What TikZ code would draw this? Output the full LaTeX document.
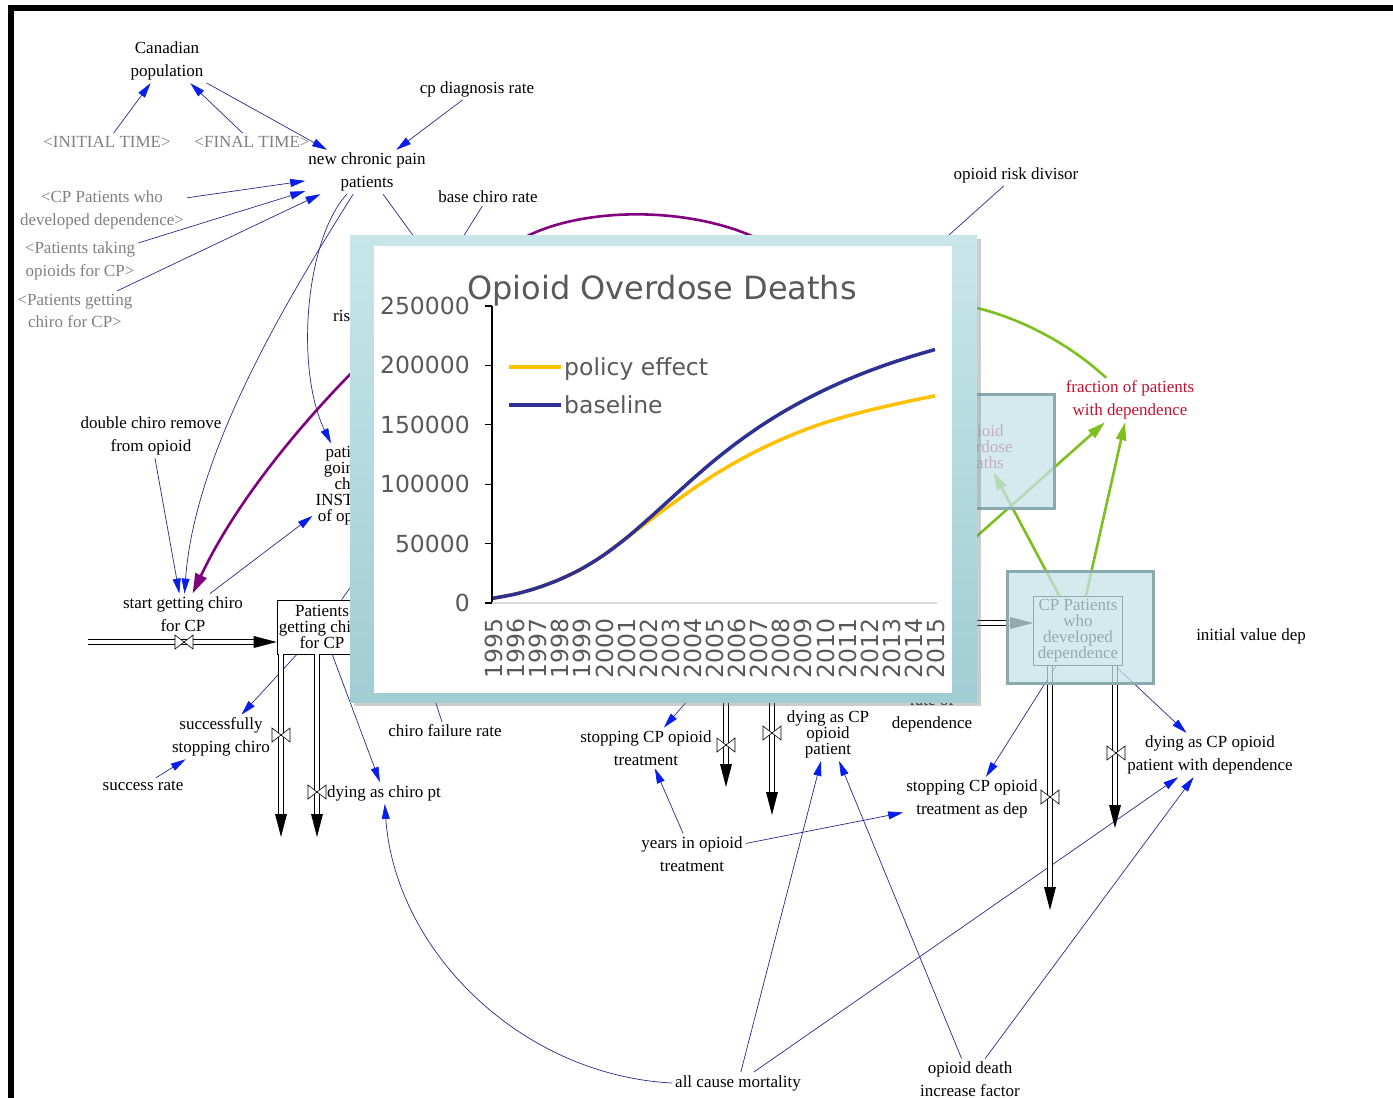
\documentclass[tikz,border=0pt]{standalone}
\usepackage{fontspec}
\setmainfont{Liberation Serif}
\newfontfamily\chartfont{DejaVu Sans}
\usepackage{xcolor}
\usepackage{tikz}
\usetikzlibrary{arrows.meta,calc,shadows}

\definecolor{linkblue}{RGB}{40,40,140}
\definecolor{tipblue}{RGB}{10,30,235}
\definecolor{shadowgray}{RGB}{128,128,128}
\definecolor{fracred}{RGB}{200,16,46}
\definecolor{loopgreen}{RGB}{125,192,30}
\definecolor{looppurple}{RGB}{128,0,128}
\definecolor{hilite}{RGB}{197,227,232}
\definecolor{hiliteedge}{RGB}{138,170,176}
\definecolor{panelA}{RGB}{200,230,234}
\definecolor{panelB}{RGB}{160,205,211}
\definecolor{chartgray}{RGB}{89,89,89}
\definecolor{axisgray}{RGB}{217,217,217}
\definecolor{policyorange}{RGB}{255,192,0}
\definecolor{basenavy}{RGB}{46,49,146}

\newcommand\lblfont{\fontsize{17}{22.5}\selectfont}
\newcommand\tightfont{\fontsize{17}{16}\selectfont}
\newcommand\tickfont{\chartfont\fontsize{23.5}{28}\selectfont}

\tikzset{
  lbl/.style={font=\lblfont, align=center, inner sep=3pt},
  shadowlbl/.style={lbl, text=shadowgray},
  tightlbl/.style={font=\tightfont, align=center, inner sep=3pt},
  infolink/.style={draw=linkblue, line width=0.7pt, -{Triangle[length=15pt,width=8pt,color=tipblue]}},
  purplelink/.style={draw=looppurple, line width=2.6pt, -{Triangle[length=20pt,width=12pt]}},
  greenlink/.style={draw=loopgreen, line width=2.6pt, -{Triangle[length=18pt,width=10pt]}},
  pipeouter/.style={draw=black, line width=5.2pt, shorten >=20pt},
  pipeinner/.style={draw=white, line width=3.2pt, shorten >=20pt},
  valve/.pic={\draw[fill=white, line width=0.6pt] (-9,-7) -- (9,7) -- (9,-7) -- (-9,7) -- cycle;},
  tipdown/.pic={\fill (0,0) -- (-6,-23) -- (6,-23) -- cycle;},
  tipright/.pic={\fill (0,0) -- (-23,-6) -- (-23,6) -- cycle;}
}

\begin{document}
\begin{tikzpicture}[x=1pt,y=-1pt]
  \useasboundingbox (0,0) rectangle (1393,1098);
  \draw[line width=6pt] (8,8) -- (1393,8);
  \draw[line width=6pt] (11,5) -- (11,1098);

  % variables
  \node[lbl] (canpop) at (167,61) {Canadian\\population};
  \node[shadowlbl] (inittime) at (107,142) {<INITIAL TIME>};
  \node[shadowlbl] (finaltime) at (252,142) {<FINAL TIME>};
  \node[lbl] (cpdiag) at (477,89) {cp diagnosis rate};
  \node[lbl] (newcp) at (367,172) {new chronic pain\\patients};
  \node[shadowlbl] (depshadow) at (102,210) {<CP Patients who\\developed dependence>};
  \node[shadowlbl] (takingshadow) at (80,261) {<Patients taking\\opioids for CP>};
  \node[shadowlbl] (gettingshadow) at (75,311) {<Patients getting\\chiro for CP>};
  \node[lbl] (basechiro) at (488,197) {base chiro rate};
  \node[lbl] (riskdiv) at (1016,175) {opioid risk divisor};
  \node[lbl, anchor=west] (riskof) at (330,316) {risk};
  \node[lbl] (doublechiro) at (151,436) {double chiro remove\\from opioid};
  \node[tightlbl] (goingchiro) at (352,486) {patients\\going to\\chiro\\INSTEAD\\of opioids};
  \node[lbl] (startchiro) at (183,614) {start getting chiro\\for CP};
  \node[tightlbl, draw, line width=0.6pt, minimum width=90pt, minimum height=54pt, inner sep=1pt] (stockchiro) at (322,627) {Patients\\getting chiro\\for CP};
  \node[lbl] (successful) at (221,737) {successfully\\stopping chiro};
  \node[lbl] (successrate) at (143,786) {success rate};
  \node[lbl] (chirofail) at (445,731) {chiro failure rate};
  \node[lbl] (dyingchiro) at (384,793) {dying as chiro pt};
  \node[lbl] (stopcp) at (646,748) {stopping CP opioid\\treatment};
  \node[tightlbl] (dyingcp) at (828,734) {dying as CP\\opioid\\patient};
  \node[lbl] (rateofdep) at (932,713) {rate of\\dependence};
  \node[lbl] (yearsop) at (692,854) {years in opioid\\treatment};
  \node[lbl] (stopdep) at (972,799) {stopping CP opioid\\treatment as dep};
  \node[lbl] (dyingdep) at (1210,755) {dying as CP opioid\\patient with dependence};
  \node[lbl] (initdep) at (1251,636) {initial value dep};
  \node[lbl] (allcause) at (738,1083) {all cause mortality};
  \node[lbl] (deathfactor) at (970,1079) {opioid death\\increase factor};
  \node[lbl, text=fracred] (fracdep) at (1130,400) {fraction of patients\\with dependence};
  \node[tightlbl, draw, line width=0.6pt, minimum width=89pt, minimum height=69pt, inner sep=1pt] (stockdep) at (1078,631) {CP Patients\\who\\developed\\dependence};
  \node[tightlbl, text=fracred] (stockdeaths) at (980,447) {Opioid\\Overdose\\Deaths};

  \coordinate (hidA) at (433,285);
  \coordinate (hidB) at (449,285);
  \coordinate (hidC) at (930,252);
  \coordinate (hidD) at (425,670);
  \coordinate (hidE) at (370,560);
  \coordinate (hidF) at (710,675);
  \coordinate (purpstart) at (770,245);
  \coordinate (greenend) at (940,302);
  \coordinate (greenstart) at (940,569);

  % information links
  \draw[infolink] (inittime) -- (canpop);
  \draw[infolink] (finaltime) -- (canpop);
  \draw[infolink] (canpop) -- (newcp);
  \draw[infolink] (cpdiag) -- (newcp);
  \draw[infolink] (depshadow) -- (newcp);
  \draw[infolink] (takingshadow) -- (newcp);
  \draw[infolink] (gettingshadow) -- (newcp);
  \draw[infolink] (basechiro) -- (hidA);
  \draw[infolink] (newcp) -- (hidB);
  \draw[infolink] (riskdiv) -- (hidC);
  \draw[infolink] (newcp) .. controls (290,295) and (195,450) .. (startchiro);
  \draw[infolink] (newcp) .. controls (305,240) and (295,370) .. (goingchiro);
  \draw[infolink] (doublechiro) -- (startchiro);
  \draw[infolink] (startchiro) -- (goingchiro);
  \draw[infolink] (stockchiro) -- (successful);
  \draw[infolink] (successrate) -- (successful);
  \draw[infolink] (stockchiro) -- (dyingchiro);
  \draw[infolink] (allcause.west) .. controls (520,1075) and (395,950) .. (dyingchiro);
  \draw[infolink] (chirofail) -- (hidD);
  \draw[infolink] (stockchiro) -- (hidE);
  \draw[infolink] (hidF) -- (stopcp);
  \draw[infolink] (yearsop) -- (stopcp);
  \draw[infolink] (yearsop) -- (stopdep);
  \draw[infolink] (allcause) -- (dyingcp);
  \draw[infolink] (deathfactor) -- (dyingcp);
  \draw[infolink] (allcause) -- (dyingdep);
  \draw[infolink] (deathfactor) -- (dyingdep);
  \draw[infolink] (stockdep) -- (stopdep);
  \draw[infolink] (stockdep) -- (dyingdep);

  \draw[purplelink] (purpstart) .. controls (700,205) and (580,205) .. (520,240)
    .. controls (420,290) and (260,450) .. (startchiro);
  \draw[greenlink] (fracdep) .. controls (1060,335) and (1000,310) .. (greenend);
  \draw[greenlink] (greenstart) -- (fracdep);
  \draw[greenlink] (stockdep) -- (fracdep);
  \draw[greenlink] (stockdep) -- (stockdeaths);

  % flows
  \coordinate (srcchiro) at (88,642);
  \coordinate (inchiro) at (srcchiro -| stockchiro.west);
  \coordinate (sinkA) at (281,837);
  \coordinate (outA) at (stockchiro.south -| sinkA);
  \coordinate (sinkB) at (317,837);
  \coordinate (outB) at (stockchiro.south -| sinkB);
  \coordinate (srcC) at (726,680);
  \coordinate (sinkC) at (726,787);
  \coordinate (srcD) at (772,680);
  \coordinate (sinkD) at (772,815);
  \coordinate (srcdep) at (960,623);
  \coordinate (indep) at (srcdep -| stockdep.west);
  \coordinate (sinkE) at (1050,910);
  \coordinate (outE) at (stockdep.south -| sinkE);
  \coordinate (sinkF) at (1115,828);
  \coordinate (outF) at (stockdep.south -| sinkF);

  \foreach \a/\b in {srcchiro/inchiro, outA/sinkA, outB/sinkB, srcC/sinkC, srcD/sinkD, srcdep/indep, outE/sinkE, outF/sinkF}{
    \draw[pipeouter] (\a) -- (\b);
    \draw[pipeinner] (\a) -- (\b);
  }
  \pic at (inchiro) {tipright};
  \pic at (indep) {tipright};
  \foreach \s in {sinkA,sinkB,sinkC,sinkD,sinkE,sinkF}
    \pic at (\s) {tipdown};

  \pic at (184,642) {valve};
  \pic at (281,735) {valve};
  \pic at (317,792) {valve};
  \pic at (726,745) {valve};
  \pic at (772,733) {valve};
  \pic at (1050,797) {valve};
  \pic at (1116,753) {valve};

  % highlighted stocks
  \fill[hilite, fill opacity=0.75] (916,394) rectangle (1054,508);
  \draw[hiliteedge, line width=3pt] (916,394) rectangle (1054,508);
  \fill[hilite, fill opacity=0.75] (1007,571) rectangle (1153,683);
  \draw[hiliteedge, line width=3pt] (1007,571) rectangle (1153,683);

  % graph window
  \shade[drop shadow={opacity=0.4, shadow xshift=4pt, shadow yshift=-4pt}, top color=panelA, bottom color=panelB] (350,235) rectangle (977,702);
  \fill[white] (374,246) rectangle (952,693);
  \node[font=\chartfont\fontsize{32}{36}\selectfont, text=chartgray, anchor=base, inner sep=0pt] (charttitle) at (662,299) {Opioid Overdose Deaths};
  \draw[line width=1.2pt] (492,306) -- (492,603);
  \draw[axisgray, line width=1.5pt] (492,603) -- (937,603);
  \foreach \lab [count=\k from 0] in {0,50000,100000,150000,200000,250000}{
    \draw[line width=1.2pt] (485,603-\k*59.4) -- (492,603-\k*59.4);
    \node[font=\tickfont, text=chartgray, anchor=east, inner sep=0pt] (ytick\k) at (470,603-\k*59.4) {\lab};
  }
  \foreach \i in {0,...,20}{
    \pgfmathtruncatemacro\yr{1995+\i}
    \node[font=\tickfont, text=chartgray, rotate=90, anchor=east, inner sep=0pt] (year\i) at (494+\i*22.1,618) {\yr};
  }
  \draw[policyorange, line width=3.5pt] (509,367) -- (561,367);
  \node[font=\tickfont, text=chartgray, anchor=base west, inner sep=1pt] (legpolicy) at (563,375) {policy effect};
  \draw[basenavy, line width=3.5pt] (509,405) -- (561,405);
  \node[font=\tickfont, text=chartgray, anchor=base west, inner sep=1pt] (legbase) at (563,413) {baseline};
  \begin{scope}[shift={(493,603)}, x=22.1pt, y=1.188pt]
    \draw[policyorange, line width=3.5pt] plot[smooth] coordinates {(0,4) (1,7.5) (2,12.7) (3,19.7) (4,28.7) (5,40.2) (6,54.2) (7,68.4) (8,82.1) (9,95.3) (10,107.7) (11,118.7) (12,128.6) (13,137.3) (14,145) (15,151.7) (16,157.2) (17,162.1) (18,166.5) (19,170.6) (20,174.4)};
    \draw[basenavy, line width=3.5pt] plot[smooth] coordinates {(0,4) (1,7.5) (2,12.7) (3,19.7) (4,28.7) (5,40.2) (6,54.2) (7,70.2) (8,87) (9,103.8) (10,119.8) (11,134.4) (12,147.6) (13,159.4) (14,169.9) (15,179.3) (16,187.7) (17,195.2) (18,201.9) (19,207.9) (20,213.4)};
  \end{scope}
\end{tikzpicture}
\end{document}
